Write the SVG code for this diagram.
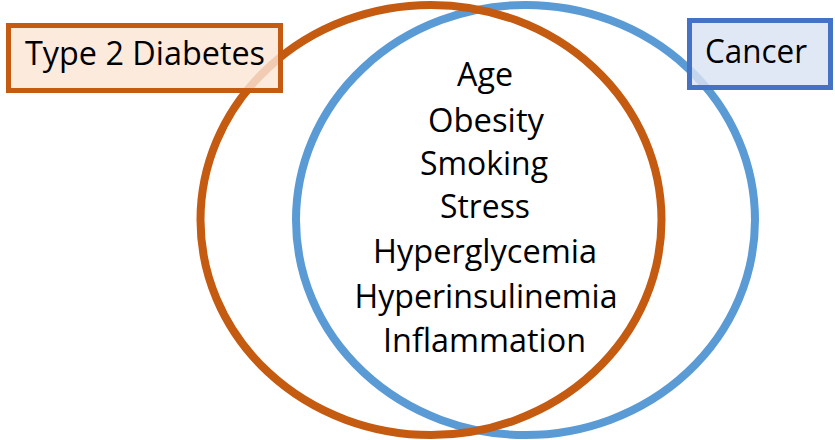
<svg xmlns="http://www.w3.org/2000/svg" width="835" height="440" viewBox="0 0 835 440">
  <style>
    .t { font-family: "Open Sans", "Liberation Sans", sans-serif; font-size: 32px; fill: #000; text-anchor: middle; }
    .ring { fill: none; stroke-width: 8; }
  </style>
  <rect width="835" height="440" fill="#fff"/>
  <g id="cancer-circle">
    <ellipse class="ring" cx="525.5" cy="220" rx="229.5" ry="215" stroke="#5B9BD5"/>
  </g>
  <g id="diabetes-circle">
    <ellipse class="ring" cx="431" cy="220" rx="230.5" ry="215" stroke="#C55A11"/>
  </g>
  <g id="shared-factors">
    <text class="t" x="485" y="86" textLength="56" lengthAdjust="spacingAndGlyphs">Age</text>
    <text class="t" x="486" y="132" textLength="116" lengthAdjust="spacingAndGlyphs">Obesity</text>
    <text class="t" x="484" y="175" textLength="128" lengthAdjust="spacingAndGlyphs">Smoking</text>
    <text class="t" x="485" y="218" textLength="90" lengthAdjust="spacingAndGlyphs">Stress</text>
    <text class="t" x="485" y="263" textLength="224" lengthAdjust="spacingAndGlyphs">Hyperglycemia</text>
    <text class="t" x="486" y="308" textLength="263" lengthAdjust="spacingAndGlyphs">Hyperinsulinemia</text>
    <text class="t" x="484.5" y="352" textLength="203" lengthAdjust="spacingAndGlyphs">Inflammation</text>
  </g>
  <g id="diabetes-label">
    <rect x="8.5" y="25.5" width="272" height="65" fill="#FBE5D6" fill-opacity="0.82" stroke="#C55A11" stroke-width="5"/>
    <text class="t" x="145" y="65" textLength="240" lengthAdjust="spacingAndGlyphs">Type 2 Diabetes</text>
  </g>
  <g id="cancer-label">
    <rect x="689.5" y="20.5" width="141" height="67" fill="#DAE3F3" fill-opacity="0.82" stroke="#4472C4" stroke-width="5"/>
    <text class="t" x="756" y="63" textLength="102" lengthAdjust="spacingAndGlyphs">Cancer</text>
  </g>
</svg>
